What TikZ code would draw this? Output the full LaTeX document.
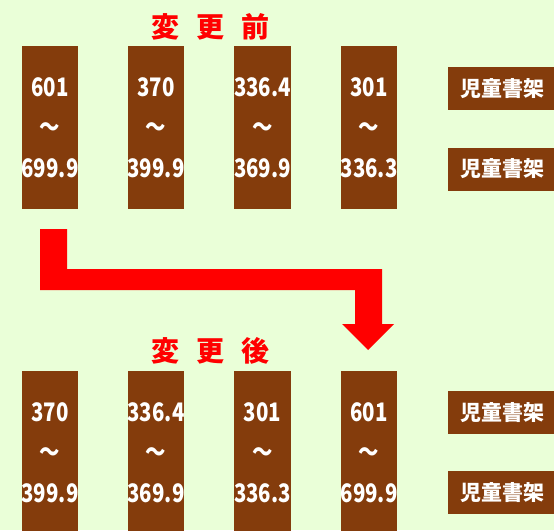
\documentclass[tikz,border=0pt]{standalone}
\usepackage{fontspec}
\newfontfamily\numfont[FakeStretch=0.8]{Noto Sans CJK JP}
\newfontfamily\jpfont{Noto Sans CJK JP}
\definecolor{bggreen}{HTML}{EAFFD8}
\definecolor{shelfbrown}{HTML}{843C0C}
\definecolor{arrowred}{HTML}{FF0000}
\begin{document}
\begin{tikzpicture}[x=1pt,y=-1pt,
  shelf/.style={fill=shelfbrown, minimum width=54pt, minimum height=163pt, inner sep=0pt,
    text=white, align=center, font=\numfont\bfseries\fontsize{25.5}{40.5}\selectfont},
  tag/.style={fill=shelfbrown, minimum width=108pt, minimum height=43pt, inner sep=0pt,
    text=white, font=\jpfont\bfseries\fontsize{21}{21}\selectfont},
  title/.style={text=arrowred, inner sep=0pt, font=\jpfont\bfseries\fontsize{28}{28}\selectfont}]
\fill[bggreen] (0,0) rectangle (554,530);
\clip (0,0) rectangle (554,530);
% titles
\node[title] (before) at (210.5,27) {変\hspace{17pt}更\hspace{17pt}前};
\node[title] (after) at (210.5,351) {変\hspace{17pt}更\hspace{17pt}後};
% top shelves
\node[shelf] (t1) at (50,127.5) {601\\～\\699.9};
\node[shelf] (t2) at (156,127.5) {370\\～\\399.9};
\node[shelf] (t3) at (262.5,127.5) {336.4\\～\\369.9};
\node[shelf] (t4) at (369,127.5) {301\\～\\336.3};
\node[tag] (tl1) at (502,88.5) {児童書架};
\node[tag] (tl2) at (502,169) {児童書架};
% bottom shelves
\node[shelf] (b1) at (50,452.5) {370\\～\\399.9};
\node[shelf] (b2) at (156,452.5) {336.4\\～\\369.9};
\node[shelf] (b3) at (262.5,452.5) {301\\～\\336.3};
\node[shelf] (b4) at (369,452.5) {601\\～\\699.9};
\node[tag] (bl1) at (502,412.5) {児童書架};
\node[tag] (bl2) at (502,492.5) {児童書架};
% arrow
\fill[arrowred] (40,229) -- (67,229) -- (67,269) -- (382,269) -- (382,324) -- (394,324)
  -- (368,350) -- (342,324) -- (355,324) -- (355,290) -- (40,290) -- cycle;
\end{tikzpicture}
\end{document}
